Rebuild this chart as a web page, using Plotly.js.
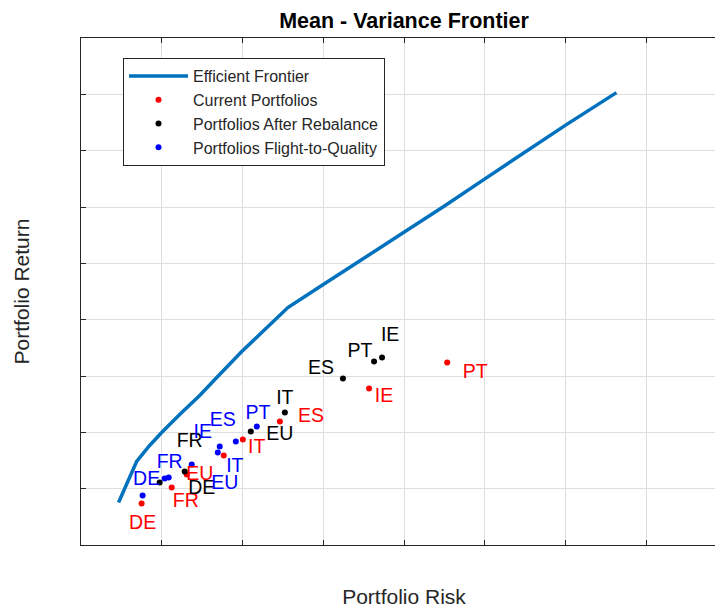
<!DOCTYPE html>
<html>
<head>
<meta charset="utf-8">
<script src="https://cdn.plot.ly/plotly-3.0.1.min.js"></script>
<style>
html, body { margin: 0; padding: 0; overflow: hidden; background: #fff; }
#chart { width: 800px; height: 611px; }
</style>
</head>
<body>
<div id="chart"></div>
<script>
// Efficient frontier (risk, return)
const frontierRisk   = [0.465, 0.577, 0.689, 0.850, 0.999, 1.222, 1.470, 1.681, 1.991, 2.277, 2.562, 3.000, 3.480, 4.001, 4.510, 5.006, 5.502, 6.011, 6.631];
const frontierReturn = [0.754, 1.109, 1.482, 1.766, 1.997, 2.316, 2.653, 2.973, 3.434, 3.825, 4.215, 4.623, 5.067, 5.546, 6.025, 6.504, 6.983, 7.462, 8.030];

// Current portfolios
const currentRisk   = [0.751, 1.123, 1.309, 1.768, 2.004, 2.463, 3.567, 4.535];
const currentReturn = [0.736, 1.020, 1.251, 1.588, 1.872, 2.192, 2.777, 3.239];

// Portfolios after rebalance
const afterRisk   = [0.974, 1.284, 2.103, 2.525, 3.244, 3.629, 3.728];
const afterReturn = [1.109, 1.304, 2.014, 2.351, 2.955, 3.256, 3.327];

// Portfolios flight-to-quality
const ftqRisk   = [0.763, 1.036, 1.086, 1.371, 1.694, 1.718, 1.917, 2.177];
const ftqReturn = [0.878, 1.180, 1.198, 1.429, 1.642, 1.748, 1.837, 2.103];

// Country labels (text, risk, return)
const currentLabels      = ['DE', 'FR', 'EU', 'IT', 'ES', 'IE', 'PT'];
const currentLabelRisk   = [0.763, 1.297, 1.470, 2.177, 2.847, 3.753, 4.882];
const currentLabelReturn = [0.364, 0.754, 1.233, 1.712, 2.263, 2.618, 3.043];

const afterLabels      = ['FR', 'DE', 'EU', 'IT', 'ES', 'PT', 'IE'];
const afterLabelRisk   = [1.346, 1.495, 2.463, 2.525, 2.972, 3.455, 3.828];
const afterLabelReturn = [1.819, 0.985, 1.943, 2.582, 3.115, 3.416, 3.700];

const ftqLabels      = ['DE', 'FR', 'EU', 'IT', 'IE', 'ES', 'PT'];
const ftqLabelRisk   = [0.813, 1.098, 1.780, 1.905, 1.507, 1.756, 2.190];
const ftqLabelReturn = [1.145, 1.446, 1.074, 1.375, 1.988, 2.192, 2.316];

const FONT = 'Liberation Sans, Arial, Helvetica, sans-serif';
const RED = '#ff0000', BLACK = '#000000', BLUE = '#0000ff', LINE = '#0072bd';
const LABEL_SIZE = 19.5;

const traces = [
  { x: frontierRisk, y: frontierReturn, mode: 'lines', name: 'Efficient Frontier',
    line: { color: LINE, width: 3.5 } },
  { x: currentRisk, y: currentReturn, mode: 'markers', name: 'Current Portfolios',
    marker: { color: RED, size: 6 } },
  { x: afterRisk, y: afterReturn, mode: 'markers', name: 'Portfolios After Rebalance',
    marker: { color: BLACK, size: 6 } },
  { x: ftqRisk, y: ftqReturn, mode: 'markers', name: 'Portfolios Flight-to-Quality',
    marker: { color: BLUE, size: 6 } },
  { x: currentLabelRisk, y: currentLabelReturn, text: currentLabels, mode: 'text', showlegend: false,
    textposition: 'middle center', textfont: { family: FONT, size: LABEL_SIZE, color: RED } },
  { x: afterLabelRisk, y: afterLabelReturn, text: afterLabels, mode: 'text', showlegend: false,
    textposition: 'middle center', textfont: { family: FONT, size: LABEL_SIZE, color: BLACK } },
  { x: ftqLabelRisk, y: ftqLabelReturn, text: ftqLabels, mode: 'text', showlegend: false,
    textposition: 'middle center', textfont: { family: FONT, size: LABEL_SIZE, color: BLUE } }
];

const axisCommon = {
  showticklabels: false,
  ticks: 'inside', ticklen: 5, tickcolor: '#262626', tickwidth: 1,
  showline: true, linecolor: '#262626', linewidth: 1, mirror: 'ticks',
  showgrid: true, gridcolor: '#dedede', gridwidth: 1,
  zeroline: false, dtick: 1, tick0: 0, fixedrange: true
};

const layout = {
  width: 800, height: 611,
  margin: { l: 81, r: 73, t: 38, b: 66, pad: 0 },
  paper_bgcolor: '#ffffff', plot_bgcolor: '#ffffff',
  font: { family: FONT, color: '#262626' },
  title: { text: '<b>Mean - Variance Frontier</b>', font: { family: FONT, size: 21.5, color: '#000000' },
           x: 0.5, xref: 'paper', xanchor: 'center', yref: 'container', y: 1 - 20 / 611, yanchor: 'middle' },
  xaxis: Object.assign({}, axisCommon, { range: [0, 8],
    title: { text: 'Portfolio Risk', font: { family: FONT, size: 21, color: '#262626' }, standoff: 44 } }),
  yaxis: Object.assign({}, axisCommon, { range: [0, 9],
    title: { text: 'Portfolio Return', font: { family: FONT, size: 21, color: '#262626' }, standoff: 44 } }),
  showlegend: true,
  legend: { x: 42 / 646, y: 487 / 507, xanchor: 'left', yanchor: 'top',
            bgcolor: '#ffffff', bordercolor: '#262626', borderwidth: 1,
            font: { family: FONT, size: 16, color: '#262626' }, itemwidth: 59 },
  hovermode: false
};

Plotly.newPlot('chart', traces, layout, { staticPlot: true, displayModeBar: false });
</script>
</body>
</html>
